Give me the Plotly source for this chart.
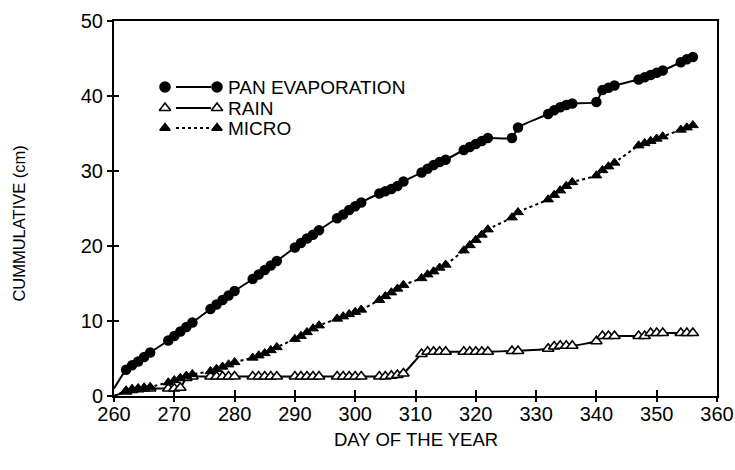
import plotly.graph_objects as go

# ---- data ----
pan_days = [260, 262, 263, 264, 265, 266, 269, 270, 271, 272, 273, 276, 277, 278, 279, 280,
            283, 284, 285, 286, 287, 290, 291, 292, 293, 294, 297, 298, 299, 300, 301,
            304, 305, 306, 307, 308, 311, 312, 313, 314, 315, 318, 319, 320, 321, 322,
            326, 327, 332, 333, 334, 335, 336, 340, 341, 342, 343, 347, 348, 349, 350, 351,
            354, 355, 356]
pan_vals = [1.0, 3.5, 4.1, 4.6, 5.2, 5.8, 7.4, 8.0, 8.6, 9.2, 9.8, 11.6, 12.2, 12.8, 13.4, 14.0,
            15.6, 16.2, 16.8, 17.4, 18.0, 19.8, 20.4, 21.0, 21.5, 22.1, 23.7, 24.2, 24.8, 25.3, 25.8,
            27.0, 27.3, 27.6, 28.0, 28.6, 29.8, 30.3, 30.8, 31.2, 31.5, 32.8, 33.2, 33.6, 34.0, 34.4,
            34.4, 35.8, 37.6, 38.1, 38.5, 38.8, 39.0, 39.2, 40.8, 41.1, 41.4, 42.2, 42.5, 42.8, 43.1, 43.4,
            44.5, 44.9, 45.2]

rain_days = [260, 262, 263, 264, 265, 266, 269, 270, 271, 272, 273, 276, 277, 278, 279, 280,
             283, 284, 285, 286, 287, 290, 291, 292, 293, 294, 297, 298, 299, 300, 301,
             304, 305, 306, 307, 308, 311, 312, 313, 314, 315, 318, 319, 320, 321, 322,
             326, 327, 332, 333, 334, 335, 336, 340, 341, 342, 343, 347, 348, 349, 350, 351,
             354, 355, 356]
rain_vals = [0.0, 0.6, 0.8, 0.9, 1.0, 1.0, 1.0, 1.0, 1.1, 2.4, 2.6, 2.6, 2.6, 2.6, 2.6, 2.6,
             2.6, 2.6, 2.6, 2.6, 2.6, 2.6, 2.6, 2.6, 2.6, 2.6, 2.6, 2.6, 2.6, 2.6, 2.6,
             2.6, 2.6, 2.7, 2.8, 3.0, 5.6, 5.9, 5.9, 5.9, 5.9, 5.9, 5.9, 5.9, 5.9, 5.9,
             6.0, 6.0, 6.3, 6.6, 6.7, 6.7, 6.7, 7.3, 8.0, 8.0, 8.0, 8.0, 8.0, 8.4, 8.4, 8.4,
             8.4, 8.4, 8.4]

micro_days = [260, 262, 263, 264, 265, 266, 269, 270, 271, 272, 273, 276, 277, 278, 279, 280,
              283, 284, 285, 286, 287, 290, 291, 292, 293, 294, 297, 298, 299, 300, 301,
              304, 305, 306, 307, 308, 311, 312, 313, 314, 315, 318, 319, 320, 321, 322,
              326, 327, 332, 333, 334, 335, 336, 340, 341, 342, 343, 347, 348, 349, 350, 351,
              354, 355, 356]
micro_vals = [0.0, 0.7, 0.9, 1.0, 1.1, 1.2, 1.8, 2.1, 2.4, 2.7, 2.9, 3.3, 3.6, 3.9, 4.2, 4.5,
              5.1, 5.4, 5.7, 6.1, 6.5, 7.6, 8.0, 8.5, 9.0, 9.4, 10.3, 10.6, 10.9, 11.2, 11.5,
              12.8, 13.3, 13.8, 14.3, 14.8, 15.7, 16.2, 16.6, 17.1, 17.5, 19.4, 20.1, 20.8, 21.5, 22.2,
              23.8, 24.5, 26.2, 26.8, 27.4, 28.0, 28.5, 29.4, 30.1, 30.6, 31.1, 33.4, 33.7, 34.0, 34.3, 34.6,
              35.5, 35.8, 36.1]

x_ticks = [260, 270, 280, 290, 300, 310, 320, 330, 340, 350, 360]
y_ticks = [0, 10, 20, 30, 40, 50]
legend_labels = ["PAN EVAPORATION", "RAIN", "MICRO"]

FONT = "Liberation Sans"

def sizes(days, s):
    return [0 if d == 260 else s for d in days]

fig = go.Figure()

fig.add_trace(go.Scatter(
    x=pan_days, y=pan_vals, mode="lines+markers",
    line=dict(color="black", width=2, shape="spline", smoothing=0.5),
    marker=dict(symbol="circle", size=sizes(pan_days, 10.5), color="black", opacity=1,
                line=dict(color="black", width=0)),
    showlegend=False))

fig.add_trace(go.Scatter(
    x=rain_days, y=rain_vals, mode="lines+markers",
    line=dict(color="black", width=2, shape="spline", smoothing=0.5),
    marker=dict(symbol="triangle-up", size=sizes(rain_days, 10), color="white", opacity=1,
                line=dict(color="black", width=1.6)),
    showlegend=False))

fig.add_trace(go.Scatter(
    x=micro_days, y=micro_vals, mode="lines+markers",
    line=dict(color="black", width=2, dash="dot", shape="spline", smoothing=0.5),
    marker=dict(symbol="triangle-up", size=sizes(micro_days, 9.5), color="black", opacity=1,
                line=dict(color="black", width=1)),
    showlegend=False))

# invisible trace to activate the overlay axes (inside ticks)
fig.add_trace(go.Scatter(x=[260], y=[0], xaxis="x2", yaxis="y2", mode="markers",
                         marker=dict(size=0, opacity=0), showlegend=False, hoverinfo="skip"))

# ---- custom legend on a pixel-scaled auxiliary axis ----
leg_rows = [309, 288, 268]
leg_syms = [("circle", "black", "black", 10), ("triangle-up", "white", "black", 10),
            ("triangle-up", "black", "black", 9)]
leg_dash = ["solid", "solid", "dot"]
for row, (sym, fc, lc, sz), dash in zip(leg_rows, leg_syms, leg_dash):
    fig.add_trace(go.Scatter(x=[62, 97], y=[row, row], xaxis="x3", yaxis="y3", mode="lines",
                             line=dict(color="black", width=2, dash=dash),
                             showlegend=False, hoverinfo="skip"))
    fig.add_trace(go.Scatter(x=[51, 103], y=[row, row], xaxis="x3", yaxis="y3", mode="markers",
                             marker=dict(symbol=sym, size=sz, color=fc, line=dict(color=lc, width=1.6)),
                             showlegend=False, hoverinfo="skip"))

annotations = []
for row, lab in zip(leg_rows, legend_labels):
    annotations.append(dict(x=112, y=row, xref="x3", yref="y3", text=lab, showarrow=False,
                            xanchor="left", yanchor="middle",
                            font=dict(family=FONT, size=19, color="black")))

annotations.append(dict(x=-0.159, y=0.46, xref="paper", yref="paper", text="CUMMULATIVE (cm)",
                        textangle=-90, showarrow=False, xanchor="center", yanchor="middle",
                        font=dict(family=FONT, size=16.5, color="black")))
annotations.append(dict(x=0.5, y=-0.117, xref="paper", yref="paper", text="DAY OF THE YEAR",
                        showarrow=False, xanchor="center", yanchor="middle",
                        font=dict(family=FONT, size=18.5, color="black")))

axis_common = dict(showgrid=False, zeroline=False, linecolor="black", linewidth=2, automargin=False)

fig.update_layout(
    width=735, height=470,
    margin=dict(l=114, r=18, t=21, b=74, autoexpand=False),
    paper_bgcolor="white", plot_bgcolor="white",
    font=dict(family=FONT, size=20, color="black"),
    xaxis=dict(range=[260, 360], tickvals=x_ticks, ticks="outside", ticklen=4, tickwidth=2,
               tickcolor="black", showline=True, mirror=True, ticklabelstandoff=-5, **axis_common),
    yaxis=dict(range=[0, 50], tickvals=y_ticks, ticks="outside", ticklen=5, tickwidth=2,
               tickcolor="black", showline=True, mirror=True, **axis_common),
    xaxis2=dict(range=[260, 360], tickvals=x_ticks, ticks="inside", ticklen=6, tickwidth=2,
                tickcolor="black", showticklabels=False, overlaying="x", showline=False,
                showgrid=False, zeroline=False, automargin=False),
    yaxis2=dict(range=[0, 50], tickvals=y_ticks, ticks="inside", ticklen=5, tickwidth=2,
                tickcolor="black", showticklabels=False, overlaying="y", showline=False,
                showgrid=False, zeroline=False, automargin=False),
    xaxis3=dict(range=[0, 603], domain=[0, 1], anchor="y3", visible=False, overlaying="x"),
    yaxis3=dict(range=[0, 375], domain=[0, 1], anchor="x3", visible=False, overlaying="y"),
    annotations=annotations,
)

# remove the browser's default page margin so the 735x470 figure fills the window exactly
fig.write_html("out.html", config={"displayModeBar": False},
               post_script="document.body.style.margin='0';document.body.style.overflow='hidden';")
